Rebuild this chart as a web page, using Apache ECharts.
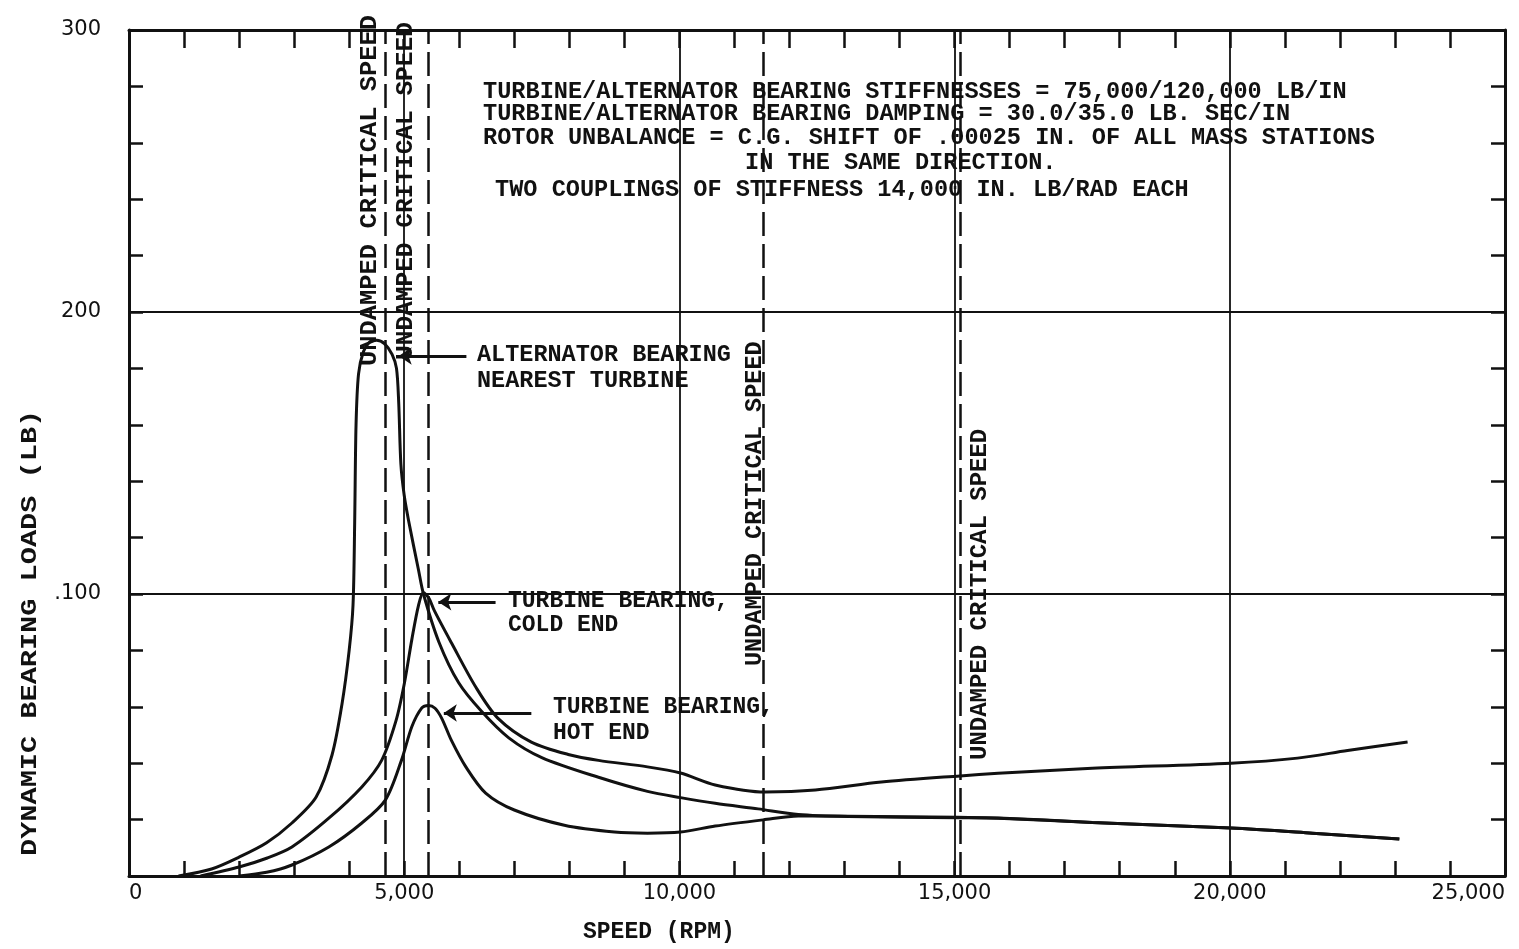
<!DOCTYPE html>
<html>
<head>
<meta charset="utf-8">
<script src="https://cdn.jsdelivr.net/npm/echarts@6/dist/echarts.min.js"></script>
<style>
  html, body { margin: 0; padding: 0; background: #fff; }
  #chart { width: 1519px; height: 949px; }
</style>
</head>
<body>
<div id="chart"></div>
<script>
// speed (rpm), load (lb)
const alternatorNearestTurbine = [
  [900, 0], [1500, 2.5], [2000, 6.7], [2500, 11.8], [2960, 18.8], [3400, 28], [3690, 43],
  [3870, 61], [4000, 80], [4070, 96], [4100, 125], [4125, 160], [4170, 178], [4260, 186],
  [4380, 189.5], [4500, 190], [4640, 188.8], [4780, 185], [4860, 180], [4900, 168],
  [4940, 146], [5000, 135], [5080, 126], [5260, 108.5], [5350, 100], [5630, 83],
  [5990, 68.5], [6400, 58.5], [6900, 49], [7500, 42], [8530, 35], [9420, 30], [10020, 27.8],
  [10650, 25.8], [11430, 23.8], [12160, 21.8], [13070, 21.1], [15060, 20.7], [15790, 20.5],
  [17500, 19], [20020, 17], [21500, 15.2], [23080, 13.1]
];

const turbineColdEnd = [
  [1300, 0], [2000, 3.2], [2500, 6.3], [2960, 10.3], [3630, 20.5], [4230, 31.6], [4590, 41],
  [4850, 55], [5000, 68], [5140, 84], [5260, 96], [5350, 100.5], [5450, 98.5], [5550, 94],
  [5860, 82.6], [6300, 67], [6700, 56], [7310, 47.5], [8000, 43], [8530, 41], [9420, 38.7],
  [10020, 36.5], [10650, 32.3], [11560, 29.8], [12470, 30.5], [13670, 33.3], [15100, 35.5],
  [15790, 36.4], [17500, 38.2], [20020, 40], [21230, 41.8], [22140, 44.5], [23230, 47.5]
];

const turbineHotEnd = [
  [2000, 0], [2500, 1.3], [2960, 3.9], [3630, 10.3], [4230, 18.8], [4660, 27], [4950, 41],
  [5140, 53], [5320, 59.6], [5440, 60.5], [5560, 59.5], [5680, 56], [5860, 48], [6120, 38.7],
  [6480, 29.4], [7000, 23.4], [7910, 18], [8820, 15.6], [9420, 15.2], [10020, 15.6],
  [10650, 17.7], [11520, 19.9], [12160, 21.3], [13070, 21.2], [15060, 20.8], [15790, 20.6],
  [17500, 19], [20020, 17], [21500, 15.2], [23080, 13.1]
];

const criticalSpeeds = [4650, 5440, 11520, 15100];

const notes = [
  "TURBINE/ALTERNATOR BEARING STIFFNESSES = 75,000/120,000 LB/IN",
  "TURBINE/ALTERNATOR BEARING DAMPING = 30.0/35.0 LB. SEC/IN",
  "ROTOR UNBALANCE = C.G. SHIFT OF .00025 IN. OF ALL MASS STATIONS",
  "IN THE SAME DIRECTION.",
  "TWO COUPLINGS OF STIFFNESS 14,000 IN. LB/RAD EACH"
];

const ink = "#111";
const mono = '"Liberation Mono", "DejaVu Sans Mono", monospace';
const numFont = '"DejaVu Sans", sans-serif';

const chart = echarts.init(document.getElementById("chart"));

function txt(x, y, text, size, opts) {
  opts = opts || {};
  return {
    type: "text",
    x: x,
    y: y,
    rotation: opts.rotation || 0,
    scaleX: opts.scaleX || 1,
    silent: true,
    style: {
      text: text,
      fill: ink,
      fontFamily: mono,
      fontSize: size,
      fontWeight: opts.weight || "bold",
      textAlign: opts.align || "left",
      textVerticalAlign: "middle",
      align: opts.align || "left",
      verticalAlign: "middle"
    }
  };
}

function fmtThousands(v) {
  return v === 0 ? "0" : v.toLocaleString("en-US");
}

const lineStyle = { color: ink, width: 3 };

function frameAxis(extra) {
  return Object.assign({
    type: "value",
    axisLine: { show: true, onZero: false, lineStyle: { color: ink, width: 3 } },
    splitLine: { show: false },
    axisLabel: { show: false }
  }, extra);
}

const option = {
  backgroundColor: "#fff",
  animation: false,
  grid: { left: 129, right: 14, top: 30, bottom: 73, containLabel: false, outerBoundsMode: "none" },
  xAxis: [
    frameAxis({
      min: 0, max: 25000, interval: 5000, position: "bottom",
      axisTick: { show: true, inside: true, length: 15, lineStyle: { color: ink, width: 2.5 } },
      minorTick: { show: true, splitNumber: 5, length: 15, lineStyle: { color: ink, width: 2.5 } },
      splitLine: { show: true, lineStyle: { color: ink, width: 1.8 } },
      axisLabel: {
        show: true, color: ink, fontFamily: numFont, fontSize: 21, margin: 7,
        alignMinLabel: "left", alignMaxLabel: "right", formatter: fmtThousands
      }
    }),
    frameAxis({
      min: 0, max: 25000, interval: 5000, position: "top",
      axisTick: { show: true, inside: true, length: 18, lineStyle: { color: ink, width: 2.5 } },
      minorTick: { show: true, splitNumber: 5, length: 18, lineStyle: { color: ink, width: 2.5 } }
    })
  ],
  yAxis: [
    frameAxis({
      min: 0, max: 300, interval: 100, position: "left",
      axisTick: { show: true, inside: true, length: 14, lineStyle: { color: ink, width: 2.5 } },
      minorTick: { show: true, splitNumber: 5, length: 14, lineStyle: { color: ink, width: 2.5 } },
      splitLine: { show: true, lineStyle: { color: ink, width: 2 } },
      axisLabel: {
        show: true, color: ink, fontFamily: numFont, fontSize: 21, margin: 28,
        formatter: v => (v === 0 ? "" : v === 100 ? ".100" : String(v))
      }
    }),
    frameAxis({
      min: 0, max: 300, interval: 100, position: "right",
      axisTick: { show: true, inside: true, length: 14, lineStyle: { color: ink, width: 2.5 } },
      minorTick: { show: true, splitNumber: 5, length: 14, lineStyle: { color: ink, width: 2.5 } }
    })
  ],
  series: [
    {
      name: "Alternator bearing nearest turbine",
      type: "line", data: alternatorNearestTurbine, showSymbol: false, smooth: 0.3,
      lineStyle: lineStyle, itemStyle: { color: ink },
      markLine: {
        silent: true, symbol: ["none", "none"], label: { show: false },
        lineStyle: { color: ink, width: 2.5, type: [24, 8] },
        data: criticalSpeeds.map(v => ({ xAxis: v }))
      }
    },
    {
      name: "Turbine bearing, cold end",
      type: "line", data: turbineColdEnd, showSymbol: false, smooth: 0.3,
      lineStyle: lineStyle, itemStyle: { color: ink },
      markLine: {
        silent: true, symbol: ["none", "arrow"], symbolSize: 13, label: { show: false },
        lineStyle: { color: ink, width: 3, type: "solid" },
        data: [
          [{ coord: [6130, 184.4] }, { coord: [4900, 184.4] }],
          [{ coord: [6660, 97.2] }, { coord: [5620, 97.2] }],
          [{ coord: [7310, 57.8] }, { coord: [5720, 57.8] }]
        ]
      }
    },
    {
      name: "Turbine bearing, hot end",
      type: "line", data: turbineHotEnd, showSymbol: false, smooth: 0.3,
      lineStyle: lineStyle, itemStyle: { color: ink }
    }
  ],
  graphic: [
    txt(483, 92, notes[0], 23.6),
    txt(483, 114, notes[1], 23.6),
    txt(483, 138, notes[2], 23.6),
    txt(745, 163, notes[3], 23.6),
    txt(495, 190, notes[4], 23.6),

    txt(370, 366, "UNDAMPED CRITICAL SPEED", 24, { rotation: Math.PI / 2, scaleX: 1.06 }),
    txt(406, 360, "UNDAMPED CRITICAL SPEED", 24, { rotation: Math.PI / 2, scaleX: 1.02 }),
    txt(755, 666, "UNDAMPED CRITICAL SPEED", 24, { rotation: Math.PI / 2, scaleX: 0.98 }),
    txt(980, 760, "UNDAMPED CRITICAL SPEED", 24, { rotation: Math.PI / 2 }),

    txt(477, 355, "ALTERNATOR BEARING", 23.5),
    txt(477, 381, "NEAREST TURBINE", 23.5),
    txt(508, 601, "TURBINE BEARING,", 23),
    txt(508, 625, "COLD END", 23),
    txt(553, 707, "TURBINE BEARING,", 23),
    txt(553, 733, "HOT END", 23),

    txt(583, 932, "SPEED (RPM)", 23),
    txt(30, 856, "DYNAMIC BEARING LOADS (LB)", 22, { rotation: Math.PI / 2, scaleX: 1.3 })
  ]
};

chart.setOption(option);
</script>
</body>
</html>
